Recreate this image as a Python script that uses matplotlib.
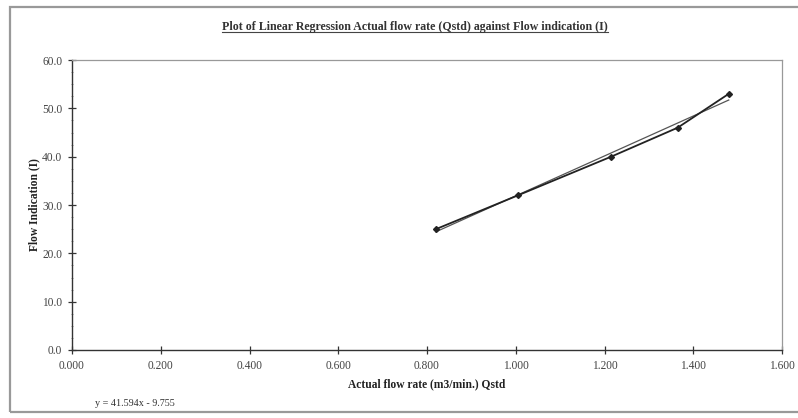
import numpy as np
import matplotlib
matplotlib.use("Agg")
import matplotlib.pyplot as plt
from matplotlib.lines import Line2D
from matplotlib.patches import Rectangle

# data
qstd = [0.820, 1.005, 1.215, 1.365, 1.480]      # actual flow rate (m3/min.)
indication = [25.0, 32.0, 40.0, 46.0, 53.0]    # flow indication (I)

x_ticks = [0.0, 0.2, 0.4, 0.6, 0.8, 1.0, 1.2, 1.4, 1.6]
y_ticks = [0, 10, 20, 30, 40, 50, 60]

title = "Plot of Linear Regression Actual flow rate (Qstd) against Flow indication (I)"
xlabel = "Actual flow rate (m3/min.) Qstd"
ylabel = "Flow Indication (I)"
eq_text = "y = 41.594x - 9.755"

#_____________________________________________________________________________
def main():

    plt.rcParams["font.family"] = ["Liberation Serif", "DejaVu Serif"]

    fig = plt.figure(figsize=(7.98, 4.18), dpi=100)
    ax = fig.add_axes([72/798, 1-350/418, (782-72)/798, (350-60)/418])

    col = "#333333"

    # linear trend line
    pars = np.polyfit(qstd, indication, 1)
    xt = np.array([qstd[0], qstd[-1]])
    ax.plot(xt, np.polyval(pars, xt), "-", color="#555555", lw=0.9)

    # data
    ax.plot(qstd, indication, "-", color="#222222", lw=1.3,
            marker="D", ms=3, mfc="#222222", mec="#222222")

    ax.set_xlim(0, 1.6)
    ax.set_ylim(0, 60)
    ax.set_xticks(x_ticks)
    ax.set_yticks(y_ticks)
    ax.set_xticklabels(["{0:.3f}".format(v) for v in x_ticks])
    ax.set_yticklabels(["{0:.1f}".format(v) for v in y_ticks])
    ax.set_yticks(np.arange(0, 60, 2.5), minor=True)
    ax.tick_params(which="major", direction="inout", length=6, width=0.9,
                   colors=col, labelsize=8.3, labelcolor="#444444", pad=4)
    ax.tick_params(which="minor", direction="inout", length=2, width=0.6, colors="#888888")

    for s in ["bottom", "left"]:
        ax.spines[s].set_color(col)
        ax.spines[s].set_linewidth(1.0)
    for s in ["top", "right"]:
        ax.spines[s].set_color("#999999")
        ax.spines[s].set_linewidth(0.9)

    ax.set_xlabel(xlabel, fontsize=8.3, fontweight="bold", color="#222222", labelpad=5)
    ax.set_ylabel(ylabel, fontsize=8.3, fontweight="bold", color="#222222", labelpad=1)

    # title with underline
    t = fig.text(415/798, 1-27/418, title, ha="center", va="center",
                 fontsize=8.6, fontweight="bold", color="#333333")
    fig.canvas.draw()
    bb = t.get_window_extent().transformed(fig.transFigure.inverted())
    fig.add_artist(Line2D([bb.x0, bb.x1], [bb.y0 + 0.002, bb.y0 + 0.002],
                          transform=fig.transFigure, color="#444444", lw=0.8))

    fig.text(95/798, 1-403/418, eq_text, ha="left", va="center",
             fontsize=7.3, color="#333333")

    # outer chart frame
    fig.add_artist(Rectangle((10/798, 1-412/418), 800/798, (412-7)/418,
                             transform=fig.transFigure, fill=False,
                             edgecolor="#999999", lw=1.6))

    fig.savefig("out.png", dpi=100)

#_____________________________________________________________________________
if __name__ == "__main__":

    main()
